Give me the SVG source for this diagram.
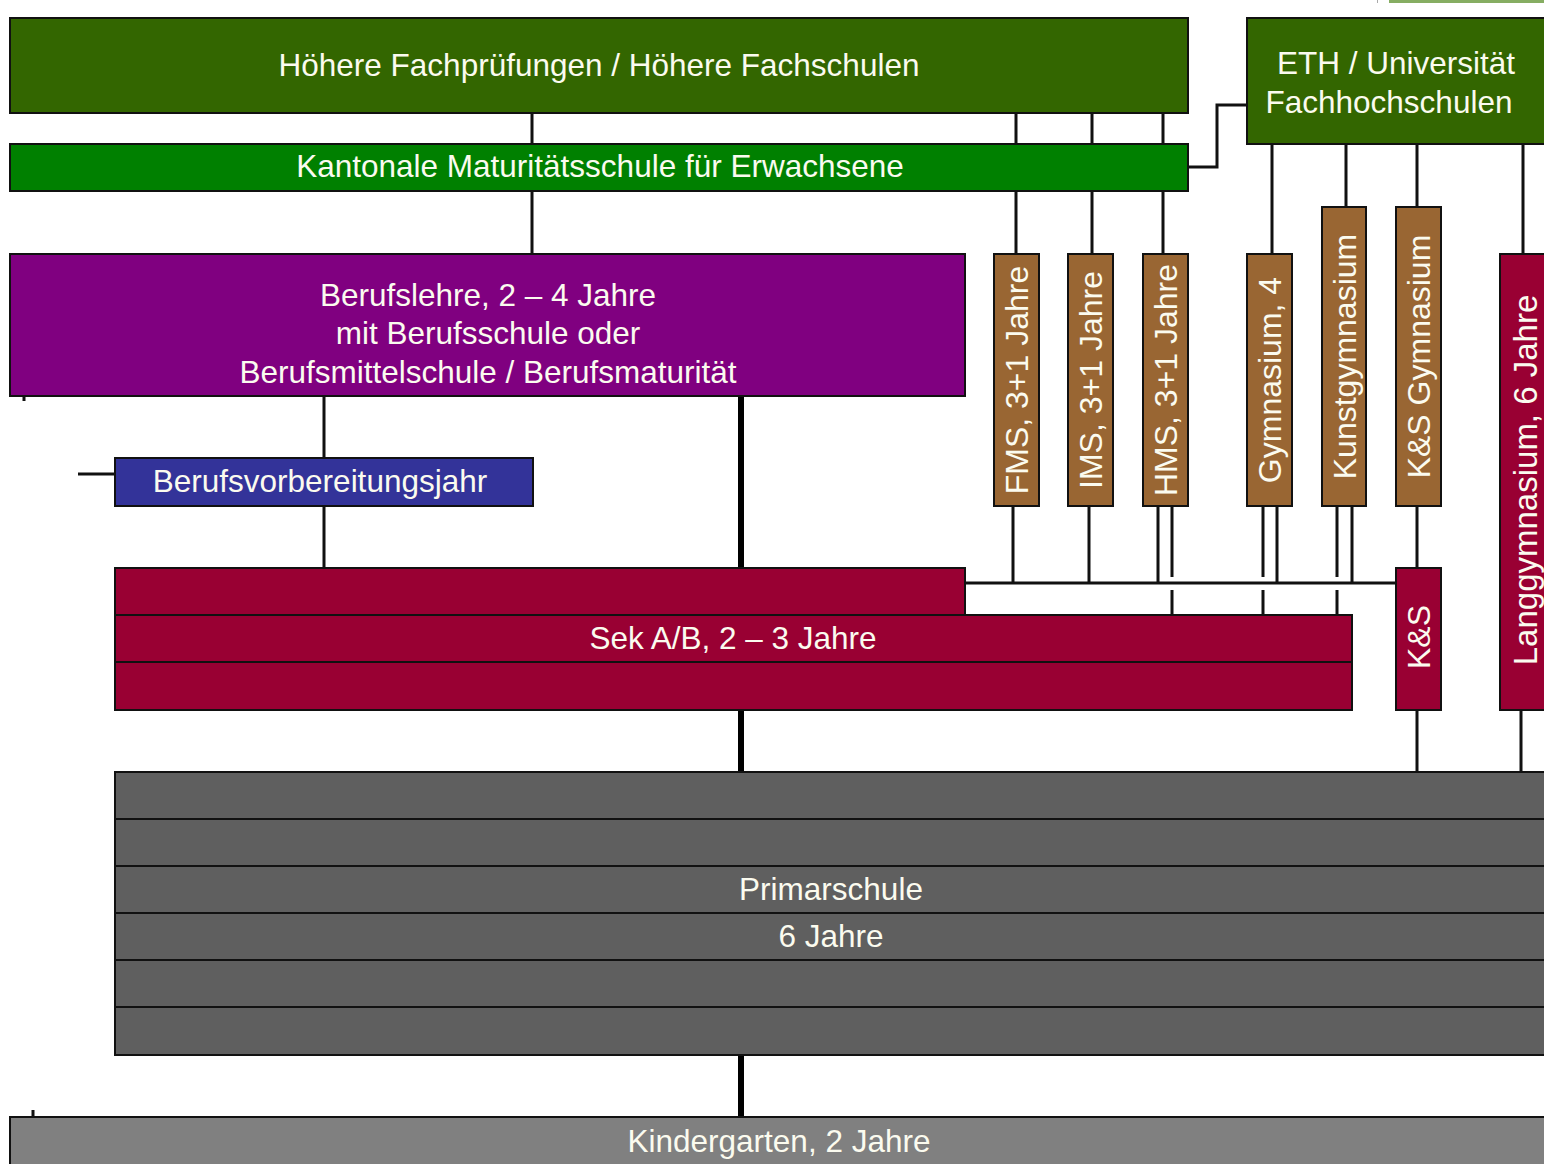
<svg xmlns="http://www.w3.org/2000/svg" width="1544" height="1164" viewBox="0 0 1544 1164">
<style>
.box{stroke:#111;stroke-width:2}
.t{font-family:"Liberation Sans",Arial,sans-serif;font-size:31.5px;fill:#fbfbef;text-anchor:middle}
.v{font-size:32px}
.c{stroke:#111;stroke-width:3;fill:none}
.k{stroke:#000;stroke-width:6;fill:none}
</style>
<rect width="1544" height="1164" fill="#ffffff"/>
<rect x="1389" y="0" width="155" height="3" fill="#86ad62"/>
<line x1="1377.5" y1="0" x2="1377.5" y2="3" stroke="#aaa" stroke-width="1"/>
<g id="connectors">
<path class="c" d="M532 113V144M532 191V254M1016 113V144M1016 191V254M1092 113V144M1092 191V254M1163 113V144M1163 191V254"/>
<path class="c" d="M1188 167H1217V105H1247"/>
<path class="c" d="M1272 144V254M1346 144V207M1417 144V207M1523 144V254"/>
<path class="c" d="M324 396V458M324 506V568M78 474H115"/>
<path class="c" d="M24 396V401M33 1110V1117"/>
<path class="k" d="M741 396V568M741 710V772M741 1055V1117"/>
<path class="c" d="M1013 506V583M1089 506V583M1158 506V583M1277 506V583M1352 506V583"/>
<path class="c" d="M1172 506V577M1172 590V615M1263 506V577M1263 590V615M1337 506V577M1337 590V615"/>
<path class="c" d="M965 583H1396"/>
<path class="c" d="M1417 506V568M1417 710V772M1521 710V772"/>
</g>
<g id="hoehere">
<rect class="box" x="10" y="18" width="1178" height="95" fill="#336600"/>
<text class="t" x="599" y="76">Höhere Fachprüfungen / Höhere Fachschulen</text>
</g>
<g id="eth">
<rect class="box" x="1247" y="18" width="310" height="126" fill="#336600"/>
<text class="t" x="1396" y="74">ETH / Universität</text>
<text class="t" x="1389" y="113">Fachhochschulen</text>
</g>
<g id="kantonale">
<rect class="box" x="10" y="144" width="1178" height="47" fill="#008000"/>
<text class="t" x="600" y="177">Kantonale Maturitätsschule für Erwachsene</text>
</g>
<g id="berufslehre">
<rect class="box" x="10" y="254" width="955" height="142" fill="#800080"/>
<text class="t" x="488" y="306">Berufslehre, 2 – 4 Jahre</text>
<text class="t" x="488" y="344">mit Berufsschule oder</text>
<text class="t" x="488" y="383">Berufsmittelschule / Berufsmaturität</text>
</g>
<g id="berufsvorbereitungsjahr">
<rect class="box" x="115" y="458" width="418" height="48" fill="#333399"/>
<text class="t" x="320" y="492">Berufsvorbereitungsjahr</text>
</g>
<g id="fms">
<rect class="box" x="994" y="254" width="45" height="252" fill="#996633"/>
<text class="t v" transform="translate(1028 380) rotate(-90)">FMS, 3+1 Jahre</text>
</g>
<g id="ims">
<rect class="box" x="1068" y="254" width="45" height="252" fill="#996633"/>
<text class="t v" transform="translate(1102 380) rotate(-90)">IMS, 3+1 Jahre</text>
</g>
<g id="hms">
<rect class="box" x="1143" y="254" width="45" height="252" fill="#996633"/>
<text class="t v" transform="translate(1177 380) rotate(-90)">HMS, 3+1 Jahre</text>
</g>
<g id="gymnasium">
<rect class="box" x="1247" y="254" width="45" height="252" fill="#996633"/>
<text class="t v" transform="translate(1281 380) rotate(-90)">Gymnasium, 4</text>
</g>
<g id="kunstgymnasium">
<rect class="box" x="1322" y="207" width="44" height="299" fill="#996633"/>
<text class="t v" transform="translate(1355.5 356.5) rotate(-90)">Kunstgymnasium</text>
</g>
<g id="ks-gymnasium">
<rect class="box" x="1396" y="207" width="45" height="299" fill="#996633"/>
<text class="t v" transform="translate(1430 356.5) rotate(-90)">K&amp;S Gymnasium</text>
</g>
<g id="langgymnasium">
<rect class="box" x="1500" y="254" width="60" height="456" fill="#990033"/>
<text class="t" style="font-size:33px" transform="translate(1537 480) rotate(-90)">Langgymnasium, 6 Jahre</text>
</g>
<g id="sek">
<rect class="box" x="115" y="568" width="850" height="47" fill="#990033"/>
<rect class="box" x="115" y="615" width="1237" height="47" fill="#990033"/>
<rect class="box" x="115" y="662" width="1237" height="48" fill="#990033"/>
<text class="t" x="733" y="649">Sek A/B, 2 – 3 Jahre</text>
</g>
<g id="ks">
<rect class="box" x="1396" y="568" width="45" height="142" fill="#990033"/>
<text class="t v" transform="translate(1430 637) rotate(-90)">K&amp;S</text>
</g>
<g id="primarschule">
<rect class="box" x="115" y="772" width="1445" height="47" fill="#5f5f5f"/>
<rect class="box" x="115" y="819" width="1445" height="47" fill="#5f5f5f"/>
<rect class="box" x="115" y="866" width="1445" height="47" fill="#5f5f5f"/>
<rect class="box" x="115" y="913" width="1445" height="47" fill="#5f5f5f"/>
<rect class="box" x="115" y="960" width="1445" height="47" fill="#5f5f5f"/>
<rect class="box" x="115" y="1007" width="1445" height="48" fill="#5f5f5f"/>
<text class="t" x="831" y="900">Primarschule</text>
<text class="t" x="831" y="947">6 Jahre</text>
</g>
<g id="kindergarten">
<rect class="box" x="10" y="1117" width="1550" height="60" fill="#808080"/>
<text class="t" x="779" y="1152">Kindergarten, 2 Jahre</text>
</g>
</svg>
